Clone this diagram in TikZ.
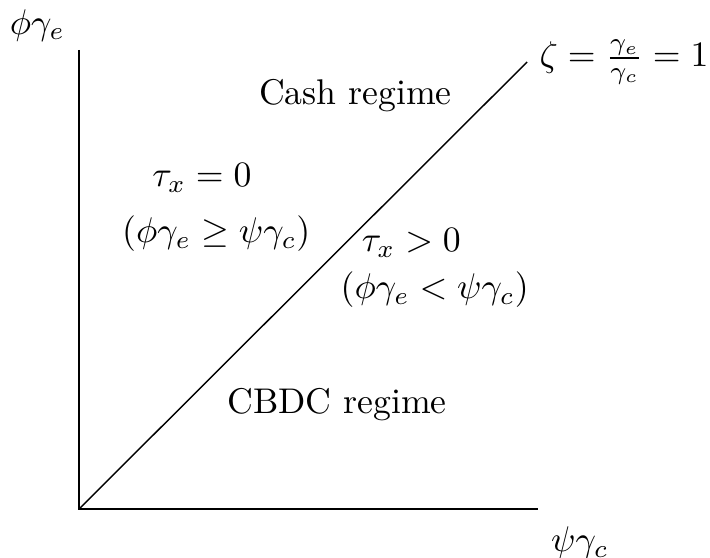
\documentclass[tikz,border=0pt]{standalone}
\usepackage{amsmath,amssymb}
\usepackage{tikz}
\usetikzlibrary{positioning}

\begin{document}
\begin{tikzpicture}[
  axis/.style={draw,line width=0.5pt},
  lbl/.style={anchor=base,inner sep=0pt}]
 \useasboundingbox (-0.778,-0.482) rectangle (6.21,5.01);
 \coordinate (O) at (0,0);
 \coordinate (ytop) at (0,4.52);
 \coordinate (xend) at (4.52,0);
 \coordinate (dend) at (4.41,4.40);
 \draw[axis] (ytop) -- (O) -- (xend);
 \draw (O) -- (dend) node[right] (zeta) {$\zeta=\frac{\gamma_e}{\gamma_c}=1$};
 \node[lbl] (ylab) at (-0.41,4.67) {$\phi\gamma_e$};
 \node[lbl] (xlab) at (4.93,-0.42) {$\psi\gamma_c$};
 \node[lbl] (cash) at (2.72,3.98) {Cash regime};
 \node[lbl] (cbdc) at (2.54,0.945) {CBDC regime};
 \node[lbl] (tz) at (1.21,3.17) {$\tau_x=0$};
 \node[lbl] (tzc) at (1.35,2.62) {$(\phi\gamma_e\geq\psi\gamma_c)$};
 \node[lbl] (tp) at (3.27,2.53) {$\tau_x>0$};
 \node[lbl] (tpc) at (3.50,2.07) {$(\phi\gamma_e<\psi\gamma_c)$};
\end{tikzpicture}
\end{document}
